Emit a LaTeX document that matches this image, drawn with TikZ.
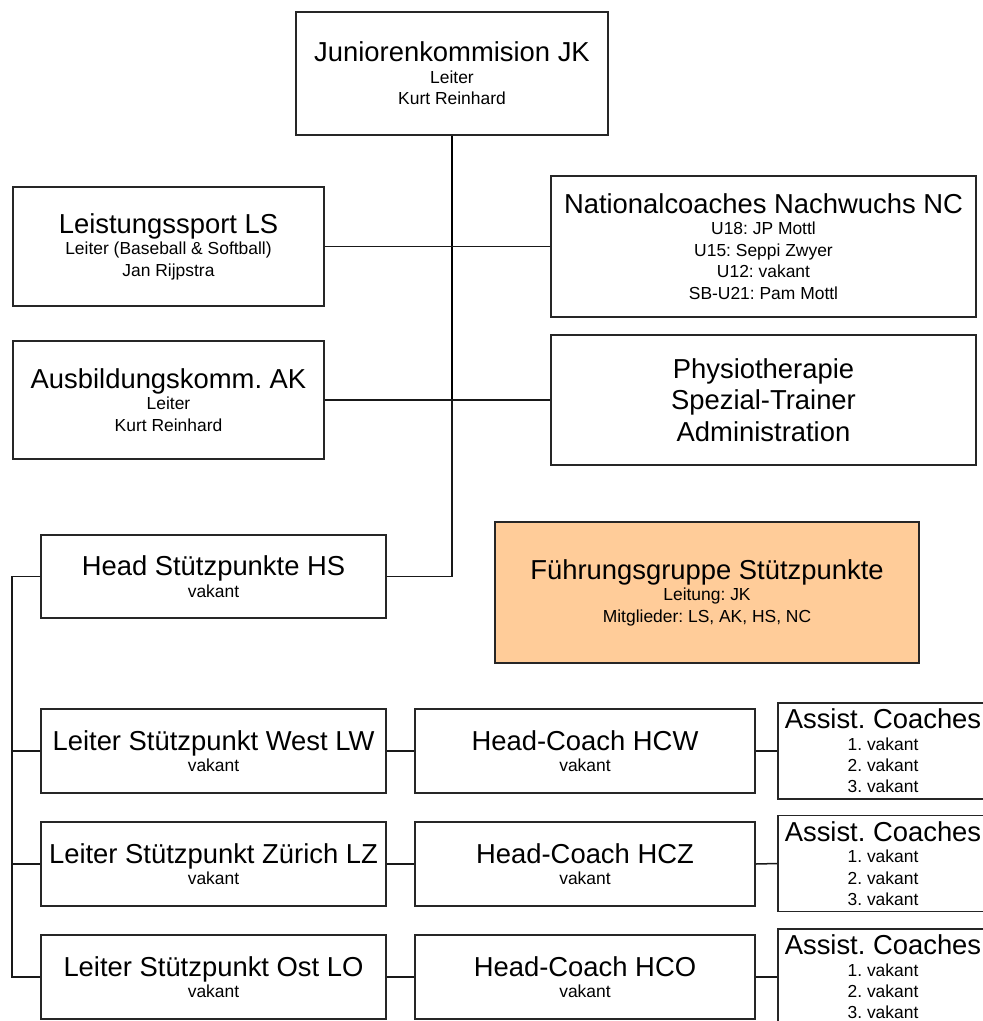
\documentclass[tikz,border=0pt]{standalone}
\usepackage{fontspec}
\setmainfont{Liberation Sans}
\frenchspacing
\newcommand\ttl[1]{{\fontsize{27.5}{30}\selectfont #1}}
\definecolor{fgorange}{HTML}{FFCC99}
\begin{document}
\begin{tikzpicture}[x=1bp,y=-1bp,
  box/.style={draw=black!85, line width=1.6bp, fill=white, align=center, inner sep=0pt,
    font=\fontsize{17.5}{21.5}\selectfont\frenchspacing},
  link/.style={line width=1.5bp, draw=black!90},
  thicklink/.style={line width=2.6bp, draw=black},
]
\clip (0,0) rectangle (983,1021);
\fill[white] (0,0) rectangle (983,1021);

\node[box, minimum width=312bp, minimum height=123bp] (jk) at (452,73.5)
  {\ttl{Juniorenkommision JK}\\Leiter\\Kurt Reinhard};
\node[box, minimum width=311bp, minimum height=119bp] (ls) at (168.5,246.5)
  {\ttl{Leistungssport LS}\\Leiter (Baseball \& Softball)\\Jan Rijpstra};
\node[box, minimum width=425bp, minimum height=141bp] (nc) at (763.5,246.5)
  {\ttl{Nationalcoaches Nachwuchs NC}\\U18: JP Mottl\\U15: Seppi Zwyer\\U12: vakant\\SB-U21: Pam Mottl};
\node[box, minimum width=311bp, minimum height=118bp] (ak) at (168.5,400)
  {\ttl{Ausbildungskomm. AK}\\Leiter\\Kurt Reinhard};
\node[box, minimum width=425bp, minimum height=130bp, font=\fontsize{27.5}{31.5}\selectfont] (ph) at (763.5,400)
  {Physiotherapie\\Spezial-Trainer\\Administration};
\node[box, minimum width=345bp, minimum height=83bp] (hs) at (213.5,576.5)
  {\ttl{Head Stützpunkte HS}\\vakant};
\node[box, fill=fgorange, minimum width=424bp, minimum height=141bp] (fg) at (707,592.5)
  {\ttl{Führungsgruppe Stützpunkte}\\Leitung: JK\\Mitglieder: LS, AK, HS, NC};

\node[box, minimum width=345bp, minimum height=84bp] (lw) at (213.5,751)
  {\ttl{Leiter Stützpunkt West LW}\\vakant};
\node[box, minimum width=340bp, minimum height=84bp] (hcw) at (585,751)
  {\ttl{Head-Coach HCW}\\vakant};
\node[box, minimum width=210bp, minimum height=96bp] (acw) at (883,751)
  {\ttl{Assist. Coaches}\\1. vakant\\2. vakant\\3. vakant};

\node[box, minimum width=345bp, minimum height=84bp] (lz) at (213.5,864)
  {\ttl{Leiter Stützpunkt Zürich LZ}\\vakant};
\node[box, minimum width=340bp, minimum height=84bp] (hcz) at (585,864)
  {\ttl{Head-Coach HCZ}\\vakant};
\node[box, minimum width=210bp, minimum height=96bp] (acz) at (883,863.5)
  {\ttl{Assist. Coaches}\\1. vakant\\2. vakant\\3. vakant};

\node[box, minimum width=345bp, minimum height=84bp] (lo) at (213.5,977)
  {\ttl{Leiter Stützpunkt Ost LO}\\vakant};
\node[box, minimum width=340bp, minimum height=84bp] (hco) at (585,977)
  {\ttl{Head-Coach HCO}\\vakant};
\node[box, minimum width=210bp, minimum height=96bp] (aco) at (883,977)
  {\ttl{Assist. Coaches}\\1. vakant\\2. vakant\\3. vakant};

\coordinate (spine) at (12,576.5);

% connectors
\draw[link] (jk.south) |- (hs.east);
\draw[thicklink] (jk.south) -- (jk.south |- ak.east);
\draw[link] (ls.east) -- (nc.west);
\draw[link] (ak.east) -- (ph.west);
\draw[link] (hs.west) -- (spine) |- (lw.west);
\draw[link] (spine) |- (lz.west);
\draw[link] (spine) |- (lo.west);
\draw[link] (lw.east) -- (hcw.west);
\draw[link] (hcw.east) -- (acw.west);
\draw[link] (lz.east) -- (hcz.west);
\draw[link] (hcz.east) -- (acz.west);
\draw[link] (lo.east) -- (hco.west);
\draw[link] (hco.east) -- (aco.west);
\end{tikzpicture}
\end{document}
